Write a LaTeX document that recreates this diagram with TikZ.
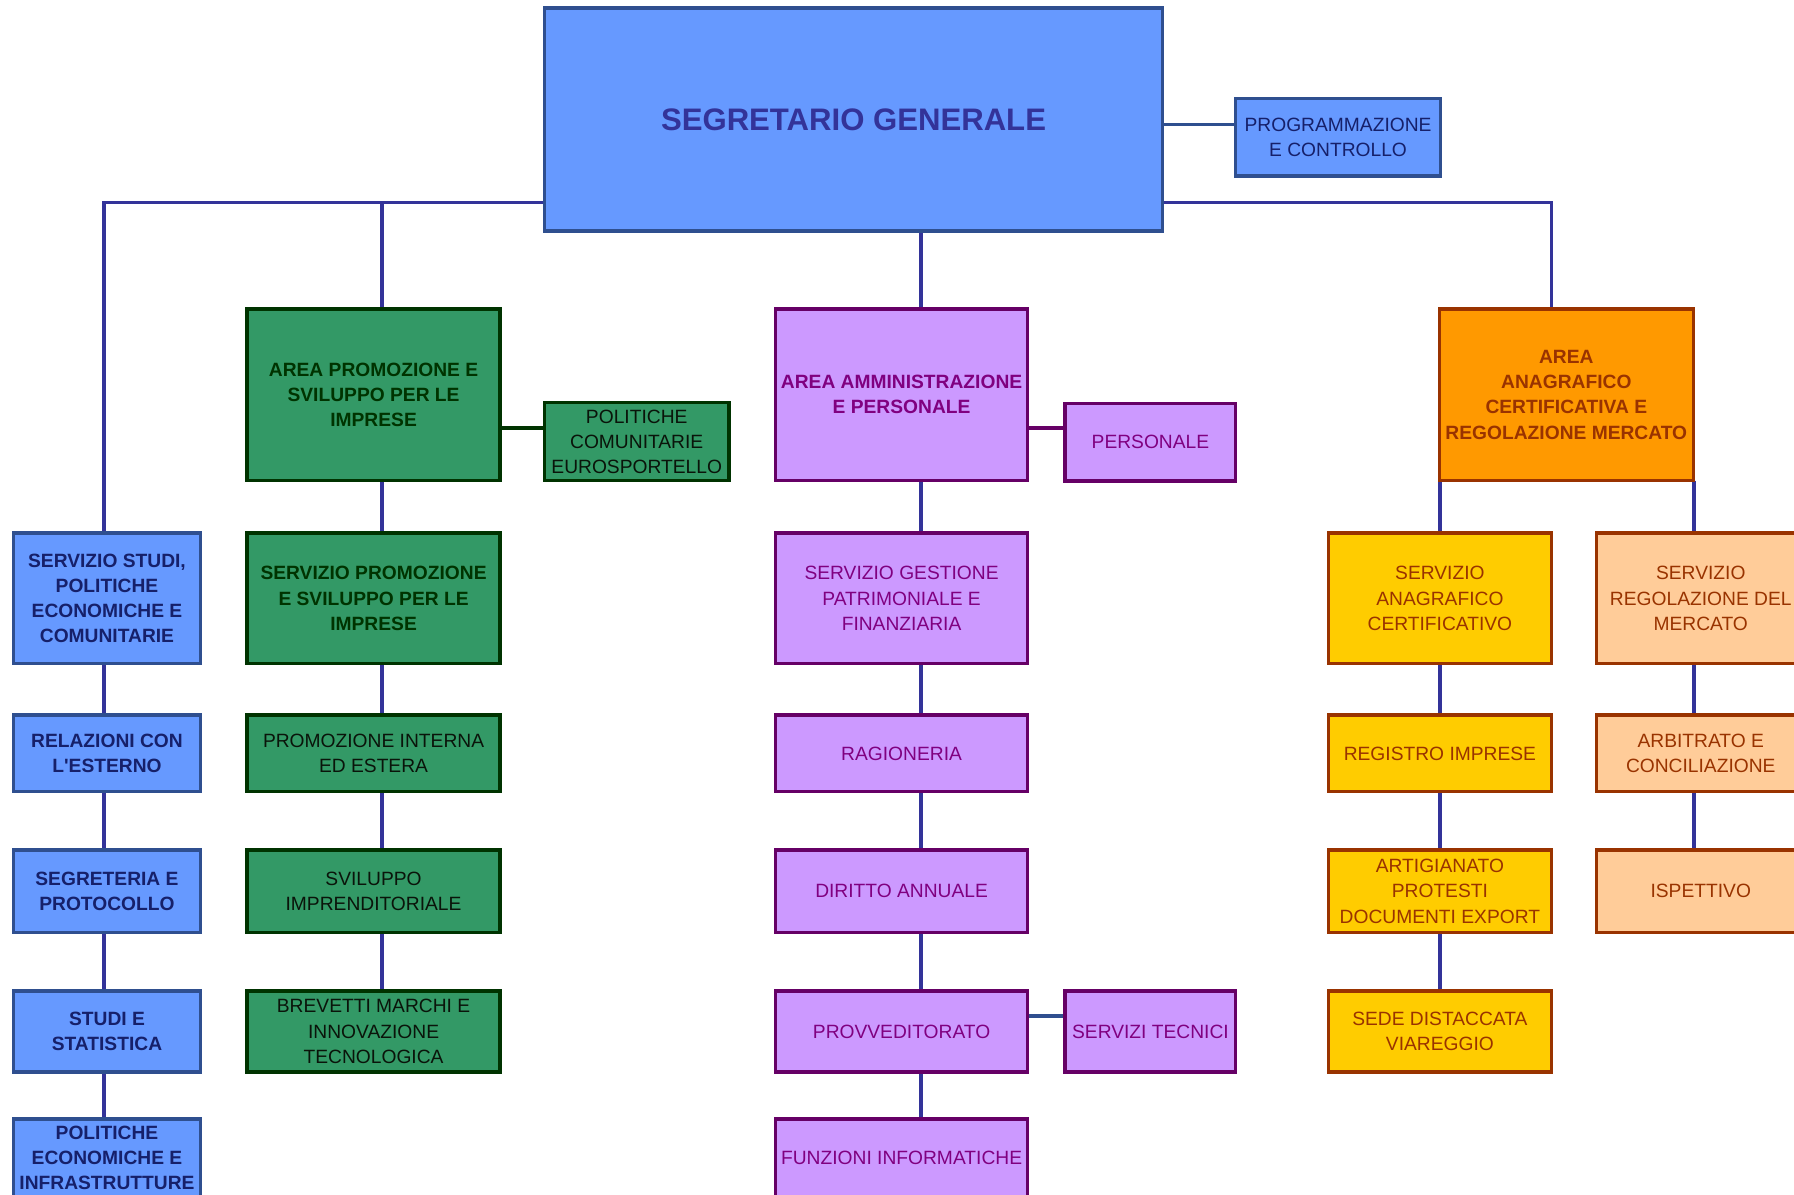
\documentclass[tikz,border=0pt]{standalone}
\usepackage{fontspec}
\setmainfont{Liberation Sans}
\usetikzlibrary{backgrounds}
\definecolor{mBlue}{HTML}{6699FF}
\definecolor{mBlueD}{HTML}{2F4F8F}
\definecolor{mNavy}{HTML}{333399}
\definecolor{tBlue}{HTML}{16206A}
\definecolor{gFill}{HTML}{339966}
\definecolor{gDark}{HTML}{003300}
\definecolor{gText}{HTML}{0A140A}
\definecolor{pFill}{HTML}{CC99FF}
\definecolor{pDark}{HTML}{660066}
\definecolor{pText}{HTML}{800080}
\definecolor{oFill}{HTML}{FF9900}
\definecolor{yFill}{HTML}{FFCC00}
\definecolor{peFill}{HTML}{FFCC99}
\definecolor{bDark}{HTML}{993300}
\tikzset{
  regf/.style={font=\fontsize{8.4}{11}\selectfont},
  boldf/.style={font=\bfseries\fontsize{8.4}{11}\selectfont},
  base/.style={draw, line width=1.5pt, inner sep=0pt, outer sep=0pt, align=center},
  wh/.style 2 args={minimum width=#1*0.5pt, minimum height=#2*0.5pt},
  bluebox/.style={base, fill=mBlue, draw=mBlueD, text=tBlue, boldf},
  greenbox/.style={base, fill=gFill, draw=gDark, text=gText, regf},
  greenhead/.style={greenbox, text=gDark, boldf},
  purplebox/.style={base, fill=pFill, draw=pDark, text=pText, regf},
  orangebox/.style={base, fill=oFill, draw=bDark, text=bDark, boldf},
  yellowbox/.style={base, fill=yFill, draw=bDark, text=bDark, regf},
  peachbox/.style={base, fill=peFill, draw=bDark, text=bDark, regf},
  conn/.style={draw=mNavy, line width=1.5pt},
}
\begin{document}
\begin{tikzpicture}[x=0.5pt, y=-0.5pt]
\useasboundingbox (0,0) rectangle (1568,1044);
% top
\node[base, fill=mBlue, draw=mBlueD, text=mNavy, font=\bfseries\fontsize{13.6}{16}\selectfont, wh={540}{195}] (main) at (746,104.5) {SEGRETARIO GENERALE};
\node[base, fill=mBlue, draw=mBlueD, text=tBlue, regf, wh={179}{68}] (prog) at (1169.5,120) {PROGRAMMAZIONE\\E CONTROLLO};
% left column
\node[bluebox, wh={163}{114}] (lstudi) at (93.5,523) {SERVIZIO STUDI,\\POLITICHE\\ECONOMICHE E\\COMUNITARIE};
\node[bluebox, wh={163}{67}] (lrel) at (93.5,658.5) {RELAZIONI CON\\L\textquotesingle ESTERNO};
\node[bluebox, wh={163}{72}] (lsegr) at (93.5,779) {SEGRETERIA E\\PROTOCOLLO};
\node[bluebox, wh={163}{71}] (lstat) at (93.5,901.5) {STUDI E\\STATISTICA};
\node[bluebox, wh={163}{68}] (lpol) at (93.5,1012) {POLITICHE\\ECONOMICHE E\\INFRASTRUTTURE};
% green column
\node[greenhead, wh={221}{150}] (garea) at (326.5,345) {AREA PROMOZIONE E\\SVILUPPO PER LE\\IMPRESE};
\node[greenbox, wh={161}{68}] (gpol) at (556.5,386) {POLITICHE\\COMUNITARIE\\EUROSPORTELLO};
\node[greenhead, wh={221}{114}] (gserv) at (326.5,523) {SERVIZIO PROMOZIONE\\E SVILUPPO PER LE\\IMPRESE};
\node[greenbox, wh={221}{67}] (gprom) at (326.5,658.5) {PROMOZIONE INTERNA\\ED ESTERA};
\node[greenbox, wh={221}{72}] (gsvil) at (326.5,779) {SVILUPPO\\IMPRENDITORIALE};
\node[greenbox, wh={221}{71}] (gbrev) at (326.5,901.5) {BREVETTI MARCHI E\\INNOVAZIONE\\TECNOLOGICA};
% purple column
\node[purplebox, boldf, wh={220}{150}] (parea) at (788,345) {AREA AMMINISTRAZIONE\\E PERSONALE};
\node[purplebox, wh={149}{68}] (ppers) at (1005.5,386.5) {PERSONALE};
\node[purplebox, wh={220}{114}] (pgest) at (788,523) {SERVIZIO GESTIONE\\PATRIMONIALE E\\FINANZIARIA};
\node[purplebox, wh={220}{67}] (prag) at (788,658.5) {RAGIONERIA};
\node[purplebox, wh={220}{72}] (pdir) at (788,779) {DIRITTO ANNUALE};
\node[purplebox, wh={220}{71}] (pprov) at (788,901.5) {PROVVEDITORATO};
\node[purplebox, wh={149}{71}] (ptec) at (1005.5,901.5) {SERVIZI TECNICI};
\node[purplebox, wh={220}{68}] (pfun) at (788,1012) {FUNZIONI INFORMATICHE};
% orange area
\node[orangebox, wh={222}{150}] (oarea) at (1369,345) {AREA\\ANAGRAFICO\\CERTIFICATIVA E\\REGOLAZIONE MERCATO};
\node[yellowbox, wh={195}{114}] (yserv) at (1258.5,523) {SERVIZIO\\ANAGRAFICO\\CERTIFICATIVO};
\node[yellowbox, wh={195}{67}] (yreg) at (1258.5,658.5) {REGISTRO IMPRESE};
\node[yellowbox, wh={195}{72}] (yart) at (1258.5,779) {ARTIGIANATO\\PROTESTI\\DOCUMENTI EXPORT};
\node[yellowbox, wh={195}{71}] (ysede) at (1258.5,901.5) {SEDE DISTACCATA\\VIAREGGIO};
\node[peachbox, wh={182}{114}] (eserv) at (1486.5,523) {SERVIZIO\\REGOLAZIONE DEL\\MERCATO};
\node[peachbox, wh={182}{67}] (earb) at (1486.5,658.5) {ARBITRATO E\\CONCILIAZIONE};
\node[peachbox, wh={182}{72}] (eisp) at (1486.5,779) {ISPETTIVO};
% connectors
\coordinate (busL) at (91,177);
\coordinate (busR) at (1356,177);
\coordinate (gx) at (334,0);
\coordinate (px) at (805,0);
\coordinate (yx) at (1258.5,0);
\coordinate (ex) at (1480.5,0);
\begin{scope}[on background layer]
\draw[conn] (lstudi.north -| busL) -- (busL) -- (busR) -- (oarea.north -| busR);
\draw[conn] (garea.north -| gx) -- (gx |- busL);
\draw[conn] (main.south -| px) -- (parea.north -| px);
\draw[draw=mBlueD, line width=1.5pt] (main.east |- {0,109}) -- (prog.west |- {0,109});
% left
\draw[conn] (lstudi.south -| busL) -- (lrel.north -| busL);
\draw[conn] (lrel.south -| busL) -- (lsegr.north -| busL);
\draw[conn] (lsegr.south -| busL) -- (lstat.north -| busL);
\draw[conn] (lstat.south -| busL) -- (lpol.north -| busL);
% green
\draw[draw=gDark, line width=1.5pt] (garea.east |- {0,374}) -- (gpol.west |- {0,374});
\draw[conn] (garea.south -| gx) -- (gserv.north -| gx);
\draw[conn] (gserv.south -| gx) -- (gprom.north -| gx);
\draw[conn] (gprom.south -| gx) -- (gsvil.north -| gx);
\draw[conn] (gsvil.south -| gx) -- (gbrev.north -| gx);
% purple
\draw[draw=pDark, line width=1.5pt] (parea.east |- {0,374}) -- (ppers.west |- {0,374});
\draw[conn] (parea.south -| px) -- (pgest.north -| px);
\draw[conn] (pgest.south -| px) -- (prag.north -| px);
\draw[conn] (prag.south -| px) -- (pdir.north -| px);
\draw[conn] (pdir.south -| px) -- (pprov.north -| px);
\draw[conn] (pprov.south -| px) -- (pfun.north -| px);
\draw[draw=mBlueD, line width=1.5pt] (pprov.east |- {0,888}) -- (ptec.west |- {0,888});
% orange
\draw[conn] (oarea.south -| yx) -- (yserv.north -| yx);
\draw[conn] (oarea.south -| ex) -- (eserv.north -| ex);
\draw[conn] (yserv.south -| yx) -- (yreg.north -| yx);
\draw[conn] (yreg.south -| yx) -- (yart.north -| yx);
\draw[conn] (yart.south -| yx) -- (ysede.north -| yx);
\draw[conn] (eserv.south -| ex) -- (earb.north -| ex);
\draw[conn] (earb.south -| ex) -- (eisp.north -| ex);
\end{scope}
\end{tikzpicture}
\end{document}
